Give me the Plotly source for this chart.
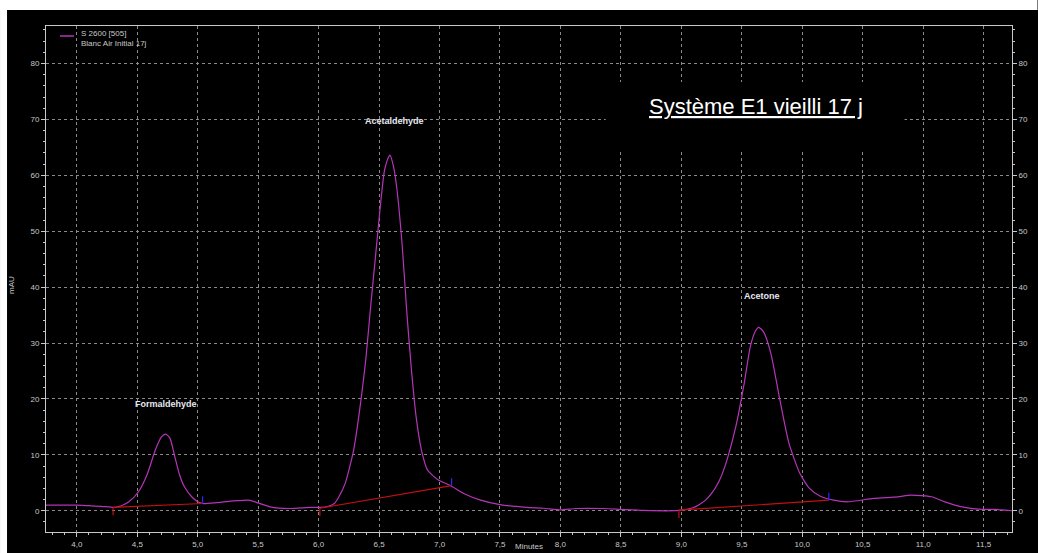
import plotly.graph_objects as go

# Chromatogram signal (retention time in minutes, absorbance in mAU)
time_min = [3.745, 3.9, 4.0, 4.1, 4.2, 4.31, 4.37, 4.43, 4.51, 4.58, 4.65, 4.70, 4.735, 4.77,
            4.81, 4.85, 4.89, 4.95, 5.0, 5.04, 5.16, 5.33, 5.42, 5.50, 5.6, 5.76, 5.92, 6.01,
            6.08, 6.13, 6.17, 6.22, 6.29, 6.35, 6.39, 6.43, 6.47, 6.51, 6.545, 6.58, 6.59,
            6.62, 6.645, 6.69, 6.73, 6.77, 6.81, 6.85, 6.90, 6.99, 7.09, 7.2, 7.34, 7.5,
            7.72, 7.86, 8.0, 8.13, 8.36, 8.5, 8.69, 8.98, 9.03, 9.09, 9.14, 9.2, 9.25, 9.31,
            9.36, 9.45, 9.52, 9.57, 9.61, 9.64, 9.68, 9.74, 9.81, 9.89, 9.98, 10.06, 10.15,
            10.26, 10.37, 10.59, 10.79, 10.9, 11.07, 11.18, 11.32, 11.48, 11.59, 11.735]
signal_mau = [1.0, 1.0, 1.0, 0.9, 0.8, 0.6, 0.9, 1.6, 3.4, 6.4, 10.9, 13.2, 13.7, 13.0,
              9.7, 6.4, 4.3, 2.5, 1.6, 1.3, 1.45, 1.8, 1.9, 1.4, 0.7, 0.4, 0.6, 0.6,
              0.8, 1.3, 2.6, 4.9, 10.9, 19.8, 27.0, 36.5, 45.4, 54.4, 60.9, 63.3, 63.6,
              61.5, 58.0, 47.8, 35.3, 24.6, 16.2, 10.9, 7.3, 5.5, 4.5, 3.1, 1.9, 1.1,
              0.6, 0.45, 0.15, 0.4, 0.4, 0.25, 0.05, 0.05, 0.2, 0.5, 1.0, 1.9, 3.1, 5.2,
              7.9, 15.0, 22.8, 29.3, 32.0, 32.8, 32.0, 28.2, 20.4, 12.1, 6.7, 4.0, 2.6,
              1.9, 1.6, 2.2, 2.5, 2.8, 2.5, 1.6, 0.7, 0.25, 0.25, 0.0]

# Integration baselines: start/end time and level for each peak
base_start_t = [4.30, 6.01, 8.98]
base_start_v = [0.6, 0.45, 0.1]
base_end_t = [5.04, 7.10, 10.22]
base_end_v = [1.3, 4.5, 1.9]

# Peak identification labels
peak_names = ["Formaldehyde", "Acetaldehyde", "Acetone"]
peak_label_t = [4.74, 6.63, 9.67]
peak_label_v = [19.1, 69.7, 38.4]

legend_lines = ["S 2600 [505]", "Blanc Air Initial 17j"]
title_text = "Système E1 vieilli 17 j"

W, H = 1038, 553
ML, MR, MT, MB = 46, 25.5, 26, 21
PW, PH = W - ML - MR, H - MT - MB


def px_x(p):
    return (p - ML) / PW


def px_y(p):
    return (H - MB - p) / PH


FONT = "Liberation Sans Narrow, Liberation Sans, Arial, sans-serif"
AXIS_C = "#c8c8c8"
GRID_C = "#8a8a8a"
TRACE_C = "#b535b8"
BASE_C = "#c41010"
MARK_C = "#2a2aff"

fig = go.Figure()

fig.add_trace(go.Scatter(x=time_min, y=signal_mau, mode="lines",
                         line=dict(color=TRACE_C, width=1.2, shape="spline", smoothing=0.6),
                         showlegend=False, hoverinfo="x+y"))

# Baseline segments with start (red) and end (blue) markers
bx, by, sx, sy, ex, ey = [], [], [], [], [], []
for t0, v0, t1, v1 in zip(base_start_t, base_start_v, base_end_t, base_end_v):
    bx += [t0, t1, None]
    by += [v0, v1, None]
    sx += [t0, t0, None]
    sy += [v0, v0 - 1.4, None]
    ex += [t1, t1, None]
    ey += [v1, v1 + 1.3, None]

fig.add_trace(go.Scatter(x=bx, y=by, mode="lines", line=dict(color=BASE_C, width=1.2),
                         showlegend=False, hoverinfo="skip"))
fig.add_trace(go.Scatter(x=sx, y=sy, mode="lines", line=dict(color=BASE_C, width=1.2),
                         showlegend=False, hoverinfo="skip"))
fig.add_trace(go.Scatter(x=ex, y=ey, mode="lines", line=dict(color=MARK_C, width=1.2),
                         showlegend=False, hoverinfo="skip"))

# Invisible trace so the right-hand mAU axis is drawn
fig.add_trace(go.Scatter(x=[time_min[0]], y=[signal_mau[0]], yaxis="y2", mode="markers",
                         marker=dict(opacity=0), showlegend=False, hoverinfo="skip"))

tick_font = dict(family=FONT, size=8, color=AXIS_C)

fig.update_layout(
    width=W, height=H,
    margin=dict(l=ML, r=MR, t=MT, b=MB, autoexpand=False),
    paper_bgcolor="black", plot_bgcolor="black",
    separators=",.",
    showlegend=False,
    xaxis=dict(range=[3.745, 11.735], dtick=0.5, tick0=0, tickformat=".1f",
               showgrid=True, gridcolor=GRID_C, griddash="3px,3px", gridwidth=1,
               showline=True, linecolor=AXIS_C, linewidth=1, mirror=True,
               ticks="outside", ticklen=4, tickcolor=AXIS_C, tickfont=tick_font,
               minor=dict(dtick=0.1, ticks="outside", ticklen=2, tickcolor=AXIS_C, showgrid=False),
               zeroline=False),
    yaxis=dict(range=[-3.8, 86.7], dtick=10, tick0=0,
               showgrid=True, gridcolor=GRID_C, griddash="3px,3px", gridwidth=1,
               showline=True, linecolor=AXIS_C, linewidth=1,
               ticks="outside", ticklen=4, tickcolor=AXIS_C, tickfont=tick_font,
               minor=dict(dtick=2, ticks="outside", ticklen=2, tickcolor=AXIS_C, showgrid=False),
               zeroline=False),
    yaxis2=dict(range=[-3.8, 86.7], dtick=10, tick0=0, overlaying="y", side="right",
                showgrid=False, showline=True, linecolor=AXIS_C, linewidth=1,
                ticks="outside", ticklen=4, tickcolor=AXIS_C, tickfont=tick_font,
                minor=dict(dtick=2, ticks="outside", ticklen=2, tickcolor=AXIS_C),
                zeroline=False),
)

shapes = [
    # white page strips around the instrument window
    dict(type="rect", xref="paper", yref="paper", x0=px_x(0), x1=px_x(W), y0=px_y(10), y1=px_y(0),
         fillcolor="white", line_width=0, layer="above"),
    dict(type="rect", xref="paper", yref="paper", x0=px_x(0), x1=px_x(7), y0=px_y(H), y1=px_y(0),
         fillcolor="white", line_width=0, layer="above"),
    # black panel behind the sample title
    dict(type="rect", xref="paper", yref="paper", x0=px_x(606), x1=px_x(905),
         y0=px_y(152), y1=px_y(82), fillcolor="black", line_width=0, layer="above"),
    # legend line sample
    dict(type="line", xref="paper", yref="paper", x0=px_x(60), x1=px_x(74),
         y0=px_y(36), y1=px_y(36), line=dict(color=TRACE_C, width=1.5)),
]
fig.update_layout(shapes=shapes)

annotations = [
    dict(text="<br>".join(legend_lines), xref="paper", yref="paper", x=px_x(79), y=px_y(27),
         xanchor="left", yanchor="top", align="left", showarrow=False,
         font=dict(family=FONT, size=8, color=AXIS_C)),
    dict(text="<u>" + title_text + "</u>", xref="paper", yref="paper",
         x=px_x(756), y=px_y(107), xanchor="center", yanchor="middle", showarrow=False,
         font=dict(family="Liberation Sans, Arial, sans-serif", size=22, color="white")),
    dict(text="mAU", xref="paper", yref="paper", x=px_x(12), y=px_y(285), textangle=-90,
         xanchor="center", yanchor="middle", showarrow=False,
         font=dict(family=FONT, size=8, color=AXIS_C)),
    dict(text="Minutes", xref="paper", yref="paper", x=px_x(529), y=px_y(546),
         xanchor="center", yanchor="middle", showarrow=False,
         font=dict(family=FONT, size=8, color=AXIS_C)),
]
for name, t, v in zip(peak_names, peak_label_t, peak_label_v):
    annotations.append(dict(text="<b>" + name + "</b>", x=t, y=v, xref="x", yref="y",
                            xanchor="center", yanchor="middle", showarrow=False,
                            font=dict(family="Liberation Sans, Arial, sans-serif", size=9,
                                      color="#e6e8f0")))
fig.update_layout(annotations=annotations)

fig.write_html("out.html")
